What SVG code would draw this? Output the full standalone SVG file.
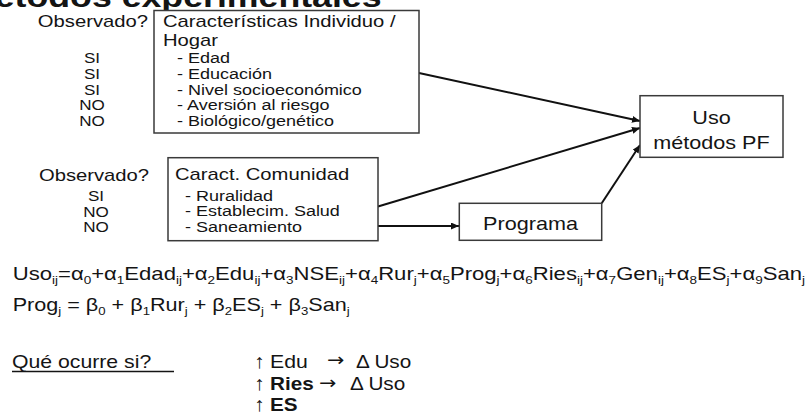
<svg xmlns="http://www.w3.org/2000/svg" width="809" height="415" viewBox="0 0 809 415">
<style>
text{font-family:"Liberation Sans",Arial,sans-serif;fill:#141414}
.h{font-size:17px}
.l{font-size:15px}
.o{font-size:14px}
.c{text-anchor:middle}
.e{text-anchor:end}
.eq{font-size:18px}
.s{font-size:11px}
.b{font-weight:bold}
.q{font-size:18px}
.up{font-size:20px}
.ar{font-family:"DejaVu Sans",sans-serif}
.box{fill:#fff;stroke:#3a3a3a;stroke-width:1.5}
.con{fill:none;stroke:#111;stroke-width:2}
</style>
<defs>
<marker id="ah" markerUnits="userSpaceOnUse" markerWidth="9" markerHeight="8" refX="8" refY="3.5" orient="auto">
<path d="M0,0 L8,3.5 L0,7 Z" fill="#111"/>
</marker>
</defs>
<text class="b" font-size="30" transform="translate(-35 6.5) scale(1.19 1)">Métodos experimentales</text>

<g id="connectors">
<path class="con" d="M419,73 L640,121" marker-end="url(#ah)"/>
<path class="con" d="M378,206.5 L640,128" marker-end="url(#ah)"/>
<path class="con" d="M378,226 L459,226" marker-end="url(#ah)"/>
<path class="con" d="M601.7,203.3 L640,145" marker-end="url(#ah)"/>
</g>

<g id="observado1">
<text class="h e" transform="translate(148 26.5) scale(1.19 1)">Observado?</text>
<text class="o c" transform="translate(92 63) scale(1.22 1)">SI</text>
<text class="o c" transform="translate(92 79) scale(1.22 1)">SI</text>
<text class="o c" transform="translate(92 94.5) scale(1.22 1)">SI</text>
<text class="o c" transform="translate(92 110) scale(1.22 1)">NO</text>
<text class="o c" transform="translate(92 125.5) scale(1.22 1)">NO</text>
</g>

<g id="individuo">
<rect class="box" x="154" y="10.5" width="265" height="122.5"/>
<text class="h" transform="translate(163 26.5) scale(1.19 1)">Características Individuo /</text>
<text class="h" transform="translate(163 46) scale(1.19 1)">Hogar</text>
<text class="l" transform="translate(177 63) scale(1.2 1)">- Edad</text>
<text class="l" transform="translate(177 79) scale(1.2 1)">- Educación</text>
<text class="l" transform="translate(177 94.5) scale(1.2 1)">- Nivel socioeconómico</text>
<text class="l" transform="translate(177 110) scale(1.2 1)">- Aversión al riesgo</text>
<text class="l" transform="translate(177 125.5) scale(1.2 1)">- Biológico/genético</text>
</g>

<g id="observado2">
<text class="h c" transform="translate(94 180.5) scale(1.19 1)">Observado?</text>
<text class="o c" transform="translate(96 201) scale(1.22 1)">SI</text>
<text class="o c" transform="translate(96 216.5) scale(1.22 1)">NO</text>
<text class="o c" transform="translate(96 232) scale(1.22 1)">NO</text>
</g>

<g id="comunidad">
<rect class="box" x="168" y="157.7" width="210" height="83"/>
<text class="h" transform="translate(175 179.5) scale(1.19 1)">Caract. Comunidad</text>
<text class="l" transform="translate(185 200.5) scale(1.2 1)">- Ruralidad</text>
<text class="l" transform="translate(185 216) scale(1.2 1)">- Establecim. Salud</text>
<text class="l" transform="translate(185 231.5) scale(1.2 1)">- Saneamiento</text>
</g>

<g id="uso">
<rect class="box" x="640" y="95.7" width="143" height="61.6"/>
<text class="c" font-size="18" transform="translate(711.5 124) scale(1.2 1)">Uso</text>
<text class="c" font-size="18" transform="translate(711.5 149) scale(1.2 1)">métodos PF</text>
</g>

<g id="programa">
<rect class="box" x="459.3" y="203.3" width="142.4" height="37"/>
<text class="c" font-size="18" transform="translate(530.5 230) scale(1.2 1)">Programa</text>
</g>

<g id="equations">
<text class="eq" transform="translate(12.7 279.5) scale(1.228 1)">Uso<tspan class="s" dy="4">ij</tspan><tspan dy="-4">=α</tspan><tspan class="s" dy="4">0</tspan><tspan dy="-4">+α</tspan><tspan class="s" dy="4">1</tspan><tspan dy="-4">Edad</tspan><tspan class="s" dy="4">ij</tspan><tspan dy="-4">+α</tspan><tspan class="s" dy="4">2</tspan><tspan dy="-4">Edu</tspan><tspan class="s" dy="4">ij</tspan><tspan dy="-4">+α</tspan><tspan class="s" dy="4">3</tspan><tspan dy="-4">NSE</tspan><tspan class="s" dy="4">ij</tspan><tspan dy="-4">+α</tspan><tspan class="s" dy="4">4</tspan><tspan dy="-4">Rur</tspan><tspan class="s" dy="4">j</tspan><tspan dy="-4">+α</tspan><tspan class="s" dy="4">5</tspan><tspan dy="-4">Prog</tspan><tspan class="s" dy="4">j</tspan><tspan dy="-4">+α</tspan><tspan class="s" dy="4">6</tspan><tspan dy="-4">Ries</tspan><tspan class="s" dy="4">ij</tspan><tspan dy="-4">+α</tspan><tspan class="s" dy="4">7</tspan><tspan dy="-4">Gen</tspan><tspan class="s" dy="4">ij</tspan><tspan dy="-4">+α</tspan><tspan class="s" dy="4">8</tspan><tspan dy="-4">ES</tspan><tspan class="s" dy="4">j</tspan><tspan dy="-4">+α</tspan><tspan class="s" dy="4">9</tspan><tspan dy="-4">San</tspan><tspan class="s" dy="4">j</tspan></text>
<text class="eq" transform="translate(12.7 311) scale(1.2 1)">Prog<tspan class="s" dy="4">j</tspan><tspan dy="-4"> = β</tspan><tspan class="s" dy="4">0</tspan><tspan dy="-4"> + β</tspan><tspan class="s" dy="4">1</tspan><tspan dy="-4">Rur</tspan><tspan class="s" dy="4">j</tspan><tspan dy="-4"> + β</tspan><tspan class="s" dy="4">2</tspan><tspan dy="-4">ES</tspan><tspan class="s" dy="4">j</tspan><tspan dy="-4"> + β</tspan><tspan class="s" dy="4">3</tspan><tspan dy="-4">San</tspan><tspan class="s" dy="4">j</tspan></text>
</g>

<g id="preguntas">
<text class="q" transform="translate(12 367.5) scale(1.18 1)">Qué ocurre si?</text>
<line x1="12" y1="371.5" x2="174" y2="371.5" stroke="#141414" stroke-width="1.4"/>
<text class="up" transform="translate(254 367.5) scale(1.05 1)">↑</text>
<text class="q" transform="translate(270 367.5) scale(1.18 1)">Edu</text>
<text class="q ar" transform="translate(327 366) scale(1.15 1)">→</text>
<text class="q" transform="translate(356 367.5) scale(1.15 1)">Δ Uso</text>
<text class="up" transform="translate(254 390) scale(1.05 1)">↑</text>
<text class="q b" transform="translate(270 390) scale(1.15 1)">Ries</text>
<text class="q ar" transform="translate(319 388.5) scale(1.15 1)">→</text>
<text class="q" transform="translate(350 390) scale(1.15 1)">Δ Uso</text>
<text class="up" transform="translate(254 410.5) scale(1.05 1)">↑</text>
<text class="q b" transform="translate(270 410.5) scale(1.15 1)">ES</text>
</g>
</svg>
